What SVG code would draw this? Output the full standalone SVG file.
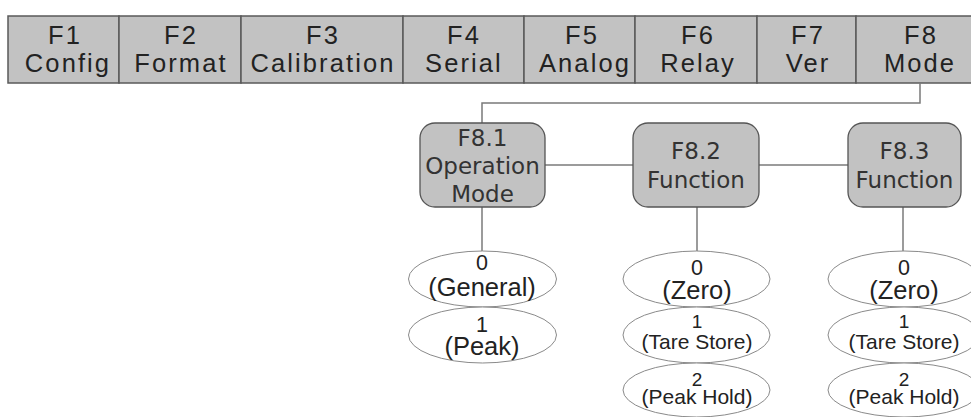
<svg xmlns="http://www.w3.org/2000/svg" width="971" height="417" viewBox="0 0 971 417">
<style>
.cell{fill:#c2c2c2;stroke:#5a5a5a;stroke-width:1.5}
.bt{font-family:"Liberation Sans",Arial,sans-serif;font-size:25.5px;fill:#222;text-anchor:middle;letter-spacing:2.1px}
.box{fill:#c2c2c2;stroke:#555;stroke-width:1.3}
.nt{font-family:"DejaVu Sans",Verdana,sans-serif;font-size:23px;fill:#333;text-anchor:middle}
.ell{fill:#fff;stroke:#8a8a8a;stroke-width:1}
.big{font-family:"Liberation Sans",Arial,sans-serif;font-size:25.5px;fill:#222;text-anchor:middle}
.dig{font-family:"Liberation Sans",Arial,sans-serif;font-size:21.5px;fill:#222;text-anchor:middle}
.sm{font-family:"Liberation Sans",Arial,sans-serif;font-size:21px;fill:#222;text-anchor:middle}
.sd{font-family:"Liberation Sans",Arial,sans-serif;font-size:19px;fill:#222;text-anchor:middle}
.ln{fill:none;stroke:#7a7a7a;stroke-width:1.5}
</style>
<g id="menu">
<g id="F1"><rect class="cell" x="8" y="16" width="111" height="67"/><text class="bt" x="65" y="44">F1</text><text class="bt" x="68" y="72">Config</text></g>
<g id="F2"><rect class="cell" x="119" y="16" width="122" height="67"/><text class="bt" x="181" y="44">F2</text><text class="bt" x="181" y="72">Format</text></g>
<g id="F3"><rect class="cell" x="241" y="16" width="162" height="67"/><text class="bt" x="323" y="44">F3</text><text class="bt" x="323" y="72">Calibration</text></g>
<g id="F4"><rect class="cell" x="403" y="16" width="121" height="67"/><text class="bt" x="464" y="44">F4</text><text class="bt" x="464" y="72">Serial</text></g>
<g id="F5"><rect class="cell" x="524" y="16" width="111" height="67"/><text class="bt" x="582" y="44">F5</text><text class="bt" x="585" y="72">Analog</text></g>
<g id="F6"><rect class="cell" x="635" y="16" width="122" height="67"/><text class="bt" x="698" y="44">F6</text><text class="bt" x="698" y="72">Relay</text></g>
<g id="F7"><rect class="cell" x="757" y="16" width="99" height="67"/><text class="bt" x="808" y="44">F7</text><text class="bt" x="808" y="72">Ver</text></g>
<g id="F8"><rect class="cell" x="856" y="16" width="120" height="67"/><text class="bt" x="921" y="44">F8</text><text class="bt" x="920" y="72">Mode</text></g>
</g>
<g id="connectors">
<polyline class="ln" points="920,83 920,103 482,103 482,123"/>
<line class="ln" x1="545" y1="165" x2="633" y2="165"/>
<line class="ln" x1="759" y1="165" x2="848" y2="165"/>
<line class="ln" x1="482" y1="207" x2="482" y2="251"/>
<line class="ln" x1="697" y1="207" x2="697" y2="251"/>
<line class="ln" x1="903" y1="207" x2="903" y2="251"/>
</g>
<g id="F8_1"><rect class="box" x="420" y="123" width="125" height="84" rx="15"/><text class="nt" x="482.5" y="145.5">F8.1</text><text class="nt" x="482.5" y="174">Operation</text><text class="nt" x="482.5" y="202">Mode</text></g>
<g id="F8_2"><rect class="box" x="633" y="123" width="126" height="84" rx="15"/><text class="nt" x="696" y="159">F8.2</text><text class="nt" x="696" y="188">Function</text></g>
<g id="F8_3"><rect class="box" x="848" y="123" width="113" height="84" rx="15"/><text class="nt" x="904.5" y="159">F8.3</text><text class="nt" x="904.5" y="188">Function</text></g>
<g id="op0"><ellipse class="ell" cx="482.5" cy="279" rx="74" ry="28"/><text class="dig" x="482" y="270">0</text><text class="big" x="482" y="296">(General)</text></g>
<g id="op1"><ellipse class="ell" cx="482.5" cy="335" rx="74" ry="28"/><text class="dig" x="482" y="332">1</text><text class="big" x="482" y="355">(Peak)</text></g>
<g id="f2_0"><ellipse class="ell" cx="696.5" cy="279" rx="73.5" ry="28"/><text class="dig" x="697" y="275">0</text><text class="big" x="697" y="299">(Zero)</text></g>
<g id="f2_1"><ellipse class="ell" cx="696.5" cy="335" rx="73.5" ry="28"/><text class="sd" x="697" y="328">1</text><text class="sm" x="697" y="349">(Tare Store)</text></g>
<g id="f2_2"><ellipse class="ell" cx="696.5" cy="390" rx="73.5" ry="27"/><text class="sd" x="697" y="386">2</text><text class="sm" x="697" y="404">(Peak Hold)</text></g>
<g id="f3_0"><ellipse class="ell" cx="904" cy="279" rx="76" ry="28"/><text class="dig" x="904" y="275">0</text><text class="big" x="904" y="299">(Zero)</text></g>
<g id="f3_1"><ellipse class="ell" cx="904" cy="335" rx="76" ry="28"/><text class="sd" x="904" y="328">1</text><text class="sm" x="904" y="349">(Tare Store)</text></g>
<g id="f3_2"><ellipse class="ell" cx="904" cy="390" rx="76" ry="27"/><text class="sd" x="904" y="386">2</text><text class="sm" x="904" y="404">(Peak Hold)</text></g>
</svg>
